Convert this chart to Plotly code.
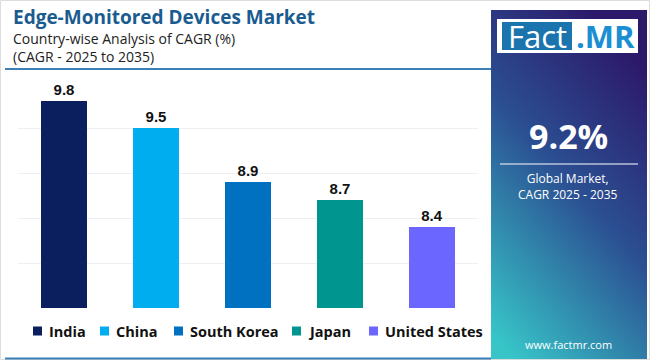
import base64
import plotly.graph_objects as go

countries = ["India", "China", "South Korea", "Japan", "United States"]
cagr = [9.8, 9.5, 8.9, 8.7, 8.4]
colors = ["#0b1f5e", "#00aeef", "#0070c0", "#00968f", "#6a66ff"]
y_ticks = [7.5, 8.0, 8.5, 9.0, 9.5, 10.0]

title_text = "Edge-Monitored Devices Market"
subtitle_1 = "Country-wise Analysis of CAGR (%)"
subtitle_2 = "(CAGR - 2025 to 2035)"
global_cagr = "9.2%"
global_label = "Global Market,<br>CAGR 2025 - 2035"
site = "www.factmr.com"

# legend layout (pixel x of each legend label start)
legend_text_x = [47, 114, 188, 306, 383]
legend_y = 331

W, H = 650, 360
ML, MR, MT, MB = 18, 172, 83, 52
PW, PH = W - ML - MR, H - MT - MB


def px(x):
    return (x - ML) / PW


def py(y):
    return (H - MB - y) / PH


fig = go.Figure()
for c, v, col in zip(countries, cagr, colors):
    fig.add_trace(go.Bar(
        x=[c], y=[v], name=c, marker=dict(color=col, line=dict(width=0)),
        width=0.5, text=[f"{v:.1f}"], textposition="outside",
        textfont=dict(family="Liberation Sans, Arial", size=15, color="#111", weight="bold"),
        cliponaxis=False, hoverinfo="x+y",
    ))

svg = (
    '<svg xmlns="http://www.w3.org/2000/svg" width="156" height="350" preserveAspectRatio="none">'
    '<defs><linearGradient id="g" x1="0.65" y1="0" x2="0.15" y2="1">'
    '<stop offset="0" stop-color="#2c196a"/>'
    '<stop offset="0.45" stop-color="#2b4f92"/>'
    '<stop offset="1" stop-color="#37c5c8"/>'
    '</linearGradient></defs>'
    '<rect width="156" height="350" fill="url(#g)"/></svg>'
)
uri = "data:image/svg+xml;base64," + base64.b64encode(svg.encode()).decode()

fig.add_layout_image(dict(
    source=uri, xref="paper", yref="paper", x=px(491), y=py(10),
    sizex=px(647) - px(491), sizey=py(10) - py(360), sizing="stretch",
    xanchor="left", yanchor="top", layer="below",
))

shapes = [
    dict(type="rect", xref="paper", yref="paper", x0=px(0.5), x1=px(649.5), y0=py(0.5), y1=py(359.5),
         line=dict(color="#dddddd", width=1), fillcolor="rgba(0,0,0,0)", layer="below"),
    dict(type="line", xref="paper", yref="paper", x0=px(5), x1=px(491), y0=py(69), y1=py(69),
         line=dict(color="#3c7fb5", width=2)),
    dict(type="line", xref="paper", yref="paper", x0=px(5), x1=px(491), y0=py(358.5), y1=py(358.5),
         line=dict(color="#3c7fb5", width=2)),
    dict(type="rect", xref="paper", yref="paper", x0=px(497), x1=px(638), y0=py(19), y1=py(53),
         fillcolor="white", line=dict(width=0)),
    dict(type="rect", xref="paper", yref="paper", x0=px(502), x1=px(572), y0=py(22), y1=py(50),
         fillcolor="#1b74ad", line=dict(width=0)),
    dict(type="line", xref="paper", yref="paper", x0=px(500), x1=px(638), y0=py(164), y1=py(164),
         line=dict(color="rgba(220,225,240,0.8)", width=1.5)),
]

ann = [
    dict(text=title_text, x=px(11), y=py(17), xanchor="left", yanchor="middle",
         font=dict(family="Open Sans", size=19, color="#1a5c90", weight="bold")),
    dict(text=subtitle_1, x=px(11), y=py(38), xanchor="left", yanchor="middle",
         font=dict(family="Open Sans", size=14, color="#222")),
    dict(text=subtitle_2, x=px(11), y=py(57), xanchor="left", yanchor="middle",
         font=dict(family="Open Sans", size=14, color="#222")),
    dict(text="Fact", x=px(537), y=py(36), xanchor="center", yanchor="middle",
         font=dict(family="Open Sans", size=31, color="white")),
    dict(text=".MR", x=px(605), y=py(36), xanchor="center", yanchor="middle",
         font=dict(family="Open Sans", size=31, color="#1b8fd2", weight="bold")),
    dict(text=global_cagr, x=px(568), y=py(136), xanchor="center", yanchor="middle",
         font=dict(family="Open Sans", size=34, color="white", weight="bold")),
    dict(text=global_label, x=px(568), y=py(186), xanchor="center", yanchor="middle",
         font=dict(family="Open Sans", size=12, color="white")),
    dict(text=site, x=px(568), y=py(344), xanchor="center", yanchor="middle",
         font=dict(family="Open Sans", size=11, color="white")),
]

# legend built from the data lists
for name, col, lx in zip(countries, colors, legend_text_x):
    shapes.append(dict(type="rect", xref="paper", yref="paper",
                       x0=px(lx - 14), x1=px(lx - 5), y0=py(legend_y - 4.5), y1=py(legend_y + 4.5),
                       fillcolor=col, line=dict(width=0)))
    ann.append(dict(text=name, x=px(lx), y=py(legend_y), xanchor="left", yanchor="middle",
                    font=dict(family="Open Sans", size=14.5, color="#111", weight="bold")))

for a in ann:
    a.update(xref="paper", yref="paper", showarrow=False)

fig.update_layout(
    width=W, height=H, margin=dict(l=ML, r=MR, t=MT, b=MB, autoexpand=False),
    paper_bgcolor="white", plot_bgcolor="white",
    barmode="overlay", bargap=0.5,
    showlegend=False,
    xaxis=dict(showticklabels=False, showgrid=False, zeroline=False, showline=False),
    yaxis=dict(range=[y_ticks[0], y_ticks[-1]], tickvals=y_ticks, showticklabels=False,
               showgrid=True, gridcolor="#efeff3", gridwidth=1, zeroline=False, showline=False),
    shapes=shapes, annotations=ann,
)

fig.write_html("out.html", config={"displayModeBar": False},
               post_script="document.body.style.margin='0';")
